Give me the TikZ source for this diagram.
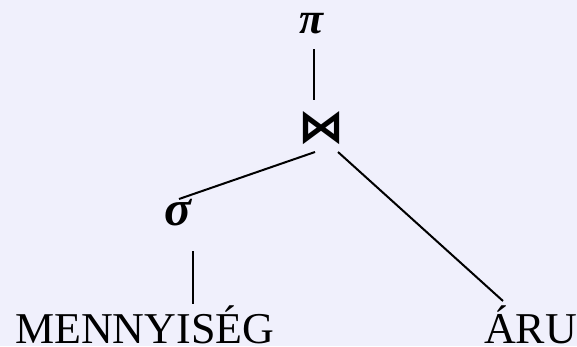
\documentclass[tikz,border=0pt]{standalone}
\usepackage{fontspec}
\setmainfont{Liberation Serif}
\newfontfamily\symfont{DejaVu Sans}
\definecolor{bg}{RGB}{240,240,252}
\begin{document}
\begin{tikzpicture}[x=1pt,y=-1pt,
  edge/.style={line width=2pt},
  lbl/.style={inner sep=0pt, font=\fontsize{44}{48}\selectfont},
  greek/.style={inner sep=0pt, anchor=base, font=\fontsize{50}{54}\selectfont\bfseries\itshape},
  op/.style={inner sep=0pt, font=\symfont\bfseries\fontsize{46}{50}\selectfont}]
\fill[bg] (0,0) rectangle (577,346);
\useasboundingbox (0,0) rectangle (577,346);
\node[greek, font=\fontsize{44}{48}\selectfont\bfseries\itshape] (pi) at (312,33) {π};
\node[op] (join) at (321.5,128.5) {⋈};
\node[greek] (sigma) at (178,225) {σ};
\node[lbl, anchor=base west] (menny) at (15,343) {MENNYISÉG};
\node[lbl, anchor=base west] (aru) at (484,343) {ÁRU};
\draw[edge] ([shift={(2,16)}]pi.base) -- ([shift={(-7.5,-28.5)}]join.center);
\draw[edge] ([shift={(-6.5,23.5)}]join.center) -- ([shift={(1,-26)}]sigma.base);
\draw[edge] ([shift={(16.5,23.5)}]join.center) -- ([shift={(19,-42)}]aru.base west);
\draw[edge] ([shift={(15,26)}]sigma.base) -- ([shift={(178,-39)}]menny.base west);
\end{tikzpicture}
\end{document}
